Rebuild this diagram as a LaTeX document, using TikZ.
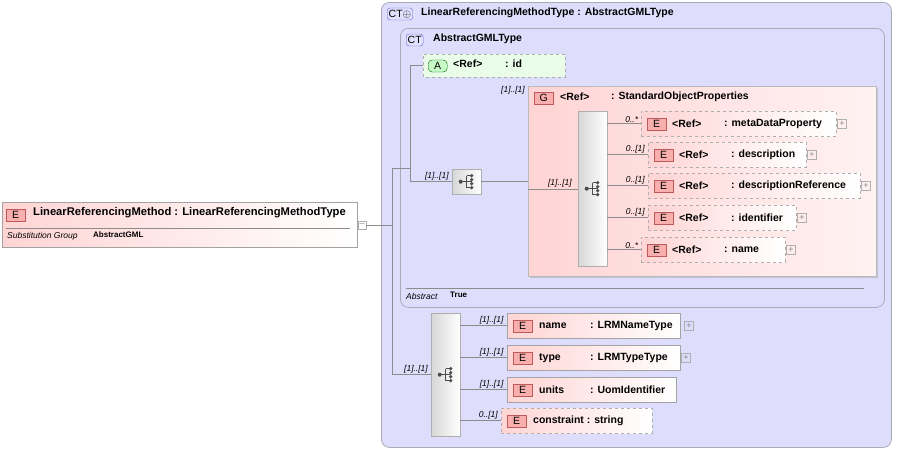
\documentclass[tikz,border=0pt]{standalone}
\usepackage{fontspec}
\setmainfont{Liberation Sans}
\usetikzlibrary{positioning,shapes.misc,shadows}
\definecolor{ctfill}{RGB}{222,222,252}
\definecolor{ctline}{RGB}{170,170,185}
\definecolor{elpink}{RGB}{255,212,212}
\definecolor{badgered}{RGB}{250,175,175}
\definecolor{badgeline}{RGB}{190,90,90}
\definecolor{attgreen}{RGB}{200,250,200}
\definecolor{linegray}{RGB}{140,140,140}
\definecolor{seqgray}{RGB}{215,215,215}
\begin{document}
\begin{tikzpicture}[x=1pt,y=-1pt,
  ctbox/.style={draw=ctline,fill=ctfill,rounded corners=8pt,line width=0.8pt},
  elem/.style={draw=linegray!80,anchor=north west,left color=elpink,right color=white,
    minimum height=25pt,inner sep=0pt},
  delem/.style={elem,dashed,draw=linegray!70},
  badge/.style={draw=badgeline,fill=badgered,minimum width=19pt,minimum height=12pt,
    inner sep=0pt,font=\fontsize{10.5}{10}\selectfont},
  ctbadge/.style={draw=ctline!60!blue,fill=ctfill!70!blue!30,rounded corners=3pt,
    minimum height=12pt,inner sep=1.5pt,font=\fontsize{10.5}{10}\selectfont},
  lbl/.style={anchor=west,inner sep=0pt,font=\bfseries\fontsize{10.5}{11}\selectfont},
  mult/.style={anchor=south east,inner sep=1pt,font=\itshape\fontsize{8.5}{8}\selectfont},
  seq/.style={draw=linegray!70,anchor=north west,left color=seqgray,right color=white,
    inner sep=0pt,drop shadow={opacity=0.3,shadow xshift=1pt,shadow yshift=-1pt}},
  conn/.style={draw=linegray,line width=0.5pt},
  plus/.style={draw=linegray!70,minimum size=9pt,inner sep=0pt,
    font=\fontsize{9}{9}\selectfont,text=linegray}]

  \useasboundingbox (0,0) rectangle (897,450);

  % outer complex type
  \node[ctbox,anchor=north west,minimum width=510pt,minimum height=445pt] (lrmt) at (381,2) {};
  \node[ctbadge,anchor=west] (ctplus) at (387,14) {CT$\oplus$};
  \node[lbl] at (421,13) {LinearReferencingMethodType : AbstractGMLType};

  % inner complex type
  \node[ctbox,anchor=north west,minimum width=484pt,minimum height=279pt] (agml) at (400,28) {};
  \node[ctbadge,anchor=west] at (406,40) {CT};
  \node[lbl] at (433,39) {AbstractGMLType};
  \draw[linegray] (406,288) -- (864,288);
  \node[anchor=west,inner sep=0pt,font=\itshape\fontsize{8.5}{8}\selectfont] at (406,296) {Abstract};
  \node[lbl,font=\bfseries\fontsize{8}{8}\selectfont] at (450,295) {True};

  % attribute id
  \node[draw=linegray!70,dashed,fill=attgreen!40,anchor=north west,minimum width=142pt,
    minimum height=23pt,inner sep=0pt,chamfered rectangle,chamfered rectangle corners={north west,south west},
    chamfered rectangle xsep=6pt] (id) at (423,54) {};
  \node[badge,fill=attgreen,draw=green!40!black,rounded corners=4pt,anchor=west] at (428,66) {A};
  \node[lbl] at (453,64) {<Ref>};
  \node[lbl] at (505,64) {: id};

  % group StandardObjectProperties
  \node[draw=linegray!60,anchor=north west,left color=elpink,right color=elpink!30,minimum width=348pt,
    minimum height=190pt,inner sep=0pt,drop shadow={opacity=0.3,shadow xshift=2pt,shadow yshift=-2pt}] (sop) at (528,86) {};
  \node[badge,anchor=west] at (534,98) {G};
  \node[lbl] at (560,97) {<Ref>};
  \node[lbl] at (611,97) {: StandardObjectProperties};
  \node[mult] at (526,95) {[1]..[1]};

  % sequences
  \node[seq,minimum width=29pt,minimum height=25pt] (seqa) at (452,169) {};
  \node[seq,minimum width=29pt,minimum height=155pt] (seqb) at (578,111) {};
  \node[seq,minimum width=29pt,minimum height=123pt] (seqc) at (431,313) {};
  \foreach \s in {seqa,seqb,seqc}{
    \draw[black!70,line width=0.8pt] (\s.center) +(-6,0) -- +(0,0) +(0,-6) -- +(0,6) +(0,-6) -- +(5,-6)
      +(0,0) -- +(5,0) +(0,6) -- +(5,6);
    \fill[black!70] (\s.center) +(-6,0) circle (2pt) +(5,-6) circle (1.8pt) +(5,-2) circle (1.8pt)
      +(5,2) circle (1.8pt) +(5,6) circle (1.8pt);
  }

  % children of StandardObjectProperties
  \foreach \n/\x/\y/\w/\t/\m in {meta/641/111/195/metaDataProperty/0..*,
      desc/648/142/158/description/0..[1],
      dref/648/173/212/descriptionReference/0..[1],
      ident/648/205/148/identifier/0..[1],
      nm/641/237/144/name/0..*}{
    \node[delem,minimum width=\w pt] (\n) at (\x,\y) {};
    \node[badge,anchor=west] at ([xshift=6pt]\n.west) {E};
    \node[lbl] at ([xshift=31pt]\n.west) {<Ref>};
    \node[lbl] at ([xshift=83pt]\n.west) {: \t};
    \node[plus,right=1pt of \n.east] {+};
    \draw[conn] (seqb.east |- \n.west) -- (\n.west) node[mult,pos=0.95] {\m};
  }

  % children of outer sequence
  \node[elem,minimum width=173pt] (lname) at (507,313) {};
  \node[elem,minimum width=173pt] (ltype) at (507,345) {};
  \node[elem,minimum width=169pt] (lunit) at (507,377) {};
  \node[delem,minimum width=151pt] (lcons) at (501,408) {};
  \foreach \n/\a/\b/\m in {lname/name/: LRMNameType/[1]..[1],ltype/type/: LRMTypeType/[1]..[1],
      lunit/units/: UomIdentifier/[1]..[1],lcons/constraint : string/{}/0..[1]}{
    \node[badge,anchor=west] at ([xshift=6pt]\n.west) {E};
    \node[lbl] at ([xshift=32pt]\n.west) {\a};
    \node[lbl] at ([xshift=83pt]\n.west) {\b};
    \draw[conn] (seqc.east |- \n.west) -- (\n.west) node[mult,pos=0.95] {\m};
  }
  \node[plus,right=4pt of lname.east] {+};
  \node[plus,right=1pt of ltype.east] {+};

  % main element
  \node[elem,minimum width=355pt,minimum height=45pt,drop shadow={opacity=0.3,shadow xshift=1pt,shadow yshift=-1pt}] (lrm) at (2,202) {};
  \node[badge,anchor=west] at (6,215) {E};
  \node[lbl,font=\bfseries\fontsize{11.2}{11}\selectfont] at (33,213) {LinearReferencingMethod : LinearReferencingMethodType};
  \draw[linegray] (6,228) -- (350,228);
  \node[anchor=west,inner sep=0pt,font=\itshape\fontsize{8.5}{8}\selectfont] at (7,236) {Substitution Group};
  \node[lbl,font=\bfseries\fontsize{8}{8}\selectfont] at (93,235) {AbstractGML};
  \node[plus,anchor=west,minimum size=8pt] (minus) at (358,225) {--};

  % connectors
  \coordinate (j1) at (392,225);
  \coordinate (j2) at (410,168);
  \coordinate (inrow) at (0,189);
  \draw[conn] (minus.east) -- (j1) (j1 |- j2) -- (j1 |- seqc.west);
  \draw[conn] (j1 |- j2) -- (j2);
  \draw[conn] (j2 |- id.west) -- (id.west) (j2 |- id.west) -- (j2 |- seqa.west) -- (seqa.west)
    node[mult,pos=0.95] {[1]..[1]};
  \draw[conn] (seqa.east) -- (sop.west |- seqa.east);
  \draw[conn] (sop.west |- inrow) -- (seqb.west |- inrow) node[mult,pos=0.9] {[1]..[1]};
  \draw[conn] (j1 |- seqc.west) -- (seqc.west) node[mult,pos=0.95] {[1]..[1]};
\end{tikzpicture}
\end{document}
